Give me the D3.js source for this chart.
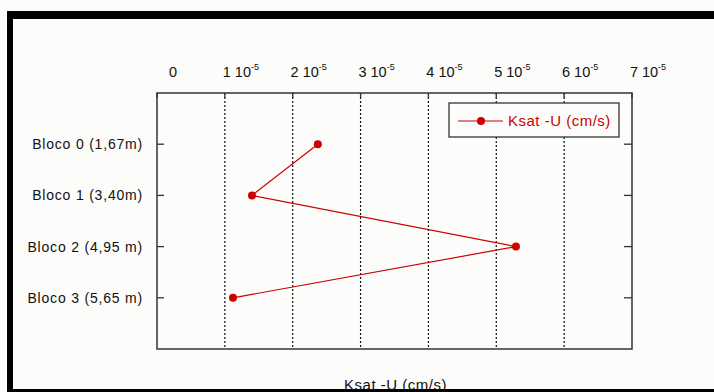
<!DOCTYPE html>
<html>
<head>
<meta charset="utf-8">
<script src="https://cdn.jsdelivr.net/npm/d3@7"></script>
<style>
body { margin: 0; background: #fff; }
svg { display: block; font-family: Arial, "Liberation Sans", sans-serif; }
</style>
</head>
<body>
<div id="chart"></div>
<script>
var fw = 714;
var fh = 392;

// data
var blocos = ["Bloco 0 (1,67m)", "Bloco 1 (3,40m)", "Bloco 2 (4,95 m)", "Bloco 3 (5,65 m)"];
var ksat = [2.37, 1.40, 5.29, 1.12]; // x 10^-5 cm/s
var xTicks = [0, 1, 2, 3, 4, 5, 6, 7];
var serieName = "Ksat -U (cm/s)";
var xTitle = "Ksat -U (cm/s)";

var mar = { top: 93, right: 82, bottom: 43, left: 157 };
var w = fw - mar.left - mar.right;
var h = fh - mar.top - mar.bottom;
var red = "#cc0000";

var svg = d3.select("#chart")
	.append("svg")
	.attr("width", fw)
	.attr("height", fh);

svg.append("rect")
	.attr("width", fw).attr("height", fh)
	.attr("fill", "#fcfcfa");

// black frame of the screenshot
svg.append("rect").attr("x", 7).attr("y", 11).attr("width", fw - 7).attr("height", 8).attr("fill", "#000");
svg.append("rect").attr("x", 7).attr("y", 11).attr("width", 6).attr("height", fh - 11).attr("fill", "#000");
svg.append("rect").attr("x", 7).attr("y", 389).attr("width", fw - 7).attr("height", 3).attr("fill", "#000");

var g = svg.append("g")
	.attr("transform", "translate(" + mar.left + "," + mar.top + ")");

var x = d3.scaleLinear().domain([0, 7]).range([0, w]);
var y = d3.scalePoint().domain(blocos).range([0, h]).padding(1);

// dotted gridlines
g.selectAll(".grid")
	.data(xTicks.slice(1, -1))
	.enter().append("line")
	.attr("class", "grid")
	.attr("x1", function(d) { return x(d); })
	.attr("x2", function(d) { return x(d); })
	.attr("y1", 0).attr("y2", h)
	.attr("stroke", "#111")
	.attr("stroke-width", 1.2)
	.attr("stroke-dasharray", "2,2");

// top tick labels (offset to the right as in the original)
var lab = g.selectAll(".xlab")
	.data(xTicks)
	.enter().append("text")
	.attr("class", "xlab")
	.attr("x", function(d) { return x(d) + 16; })
	.attr("y", -16)
	.attr("text-anchor", "middle")
	.attr("font-size", 14.5)
	.attr("fill", "#111");
lab.each(function(d) {
	var t = d3.select(this);
	if (d === 0) { t.text("0"); return; }
	t.append("tspan").text(d + " 10");
	t.append("tspan").attr("dy", -7).attr("font-size", 9).text("-5");
});

// y tick labels
g.selectAll(".ylab")
	.data(blocos)
	.enter().append("text")
	.attr("x", -14)
	.attr("y", function(d) { return y(d); })
	.attr("dy", "0.35em")
	.attr("text-anchor", "end")
	.attr("font-size", 14)
	.attr("letter-spacing", 0.8)
	.attr("fill", "#111")
	.text(function(d) { return d; });

// inward ticks left and right
g.selectAll(".tl")
	.data(blocos)
	.enter().append("line")
	.attr("x1", 0).attr("x2", 7)
	.attr("y1", function(d) { return y(d); })
	.attr("y2", function(d) { return y(d); })
	.attr("stroke", "#333").attr("stroke-width", 1.3);
g.selectAll(".tr")
	.data(blocos)
	.enter().append("line")
	.attr("x1", w - 8).attr("x2", w)
	.attr("y1", function(d) { return y(d); })
	.attr("y2", function(d) { return y(d); })
	.attr("stroke", "#333").attr("stroke-width", 1.3);
// top ticks
g.selectAll(".tt")
	.data(xTicks)
	.enter().append("line")
	.attr("x1", function(d) { return x(d); })
	.attr("x2", function(d) { return x(d); })
	.attr("y1", 0).attr("y2", 5)
	.attr("stroke", "#333").attr("stroke-width", 1.3);

g.append("rect")
	.attr("width", w).attr("height", h)
	.attr("fill", "none")
	.attr("stroke", "#333")
	.attr("stroke-width", 1.5);

// series
var pts = blocos.map(function(b, i) { return { b: b, v: ksat[i] }; });
var line = d3.line()
	.x(function(d) { return x(d.v); })
	.y(function(d) { return y(d.b); });

g.append("path")
	.datum(pts)
	.attr("d", line)
	.attr("fill", "none")
	.attr("stroke", red)
	.attr("stroke-width", 1.2);

g.selectAll(".pt")
	.data(pts)
	.enter().append("circle")
	.attr("cx", function(d) { return x(d.v); })
	.attr("cy", function(d) { return y(d.b); })
	.attr("r", 4)
	.attr("fill", red);

// legend
var lg = svg.append("g").attr("transform", "translate(449,103)");
lg.append("rect")
	.attr("width", 170).attr("height", 34)
	.attr("fill", "#fcfcfa")
	.attr("stroke", "#333").attr("stroke-width", 1.3);
lg.append("line")
	.attr("x1", 9).attr("x2", 54).attr("y1", 18).attr("y2", 18)
	.attr("stroke", red).attr("stroke-width", 1.2);
lg.append("circle").attr("cx", 32).attr("cy", 18).attr("r", 4).attr("fill", red);
lg.append("text")
	.attr("x", 59).attr("y", 18).attr("dy", "0.35em")
	.attr("font-size", 15)
	.attr("letter-spacing", 0.5)
	.attr("fill", red)
	.text(serieName);

// x title
svg.append("text")
	.attr("x", mar.left + w / 2 + 1)
	.attr("y", 390)
	.attr("text-anchor", "middle")
	.attr("font-size", 15)
	.attr("letter-spacing", 0.5)
	.attr("fill", "#111")
	.text(xTitle);
</script>
</body>
</html>
